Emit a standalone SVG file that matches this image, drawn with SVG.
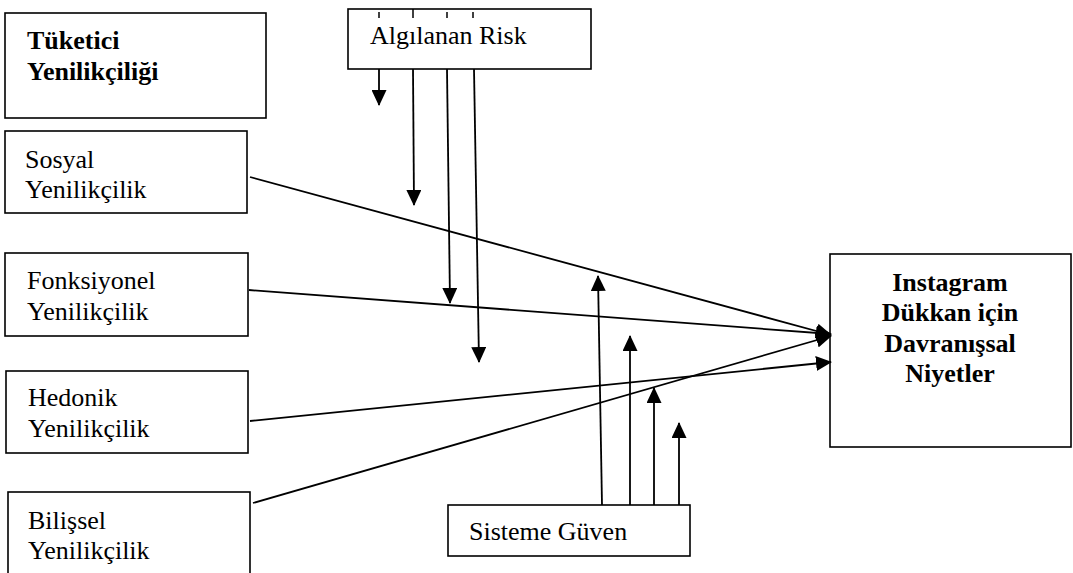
<svg xmlns="http://www.w3.org/2000/svg" width="1073" height="573" viewBox="0 0 1073 573">
<defs>
<marker id="ah" markerUnits="userSpaceOnUse" markerWidth="16" markerHeight="15" viewBox="0 0 16 15" refX="15" refY="7.5" orient="auto">
<path d="M0,0 L16,7.5 L0,15 z" fill="#000"/>
</marker>
<style>
.box{fill:#fff;stroke:#000;stroke-width:1.6}
.t{font-family:"Liberation Serif","Times New Roman",serif;font-size:26px;fill:#000}
.b{font-family:"Liberation Serif","Times New Roman",serif;font-size:26px;font-weight:bold;fill:#000}
.ln{stroke:#000;stroke-width:1.8;fill:none}
.ar{stroke:#000;stroke-width:1.8;fill:none;marker-end:url(#ah)}
.tk{stroke:#000;stroke-width:1.5}
</style>
</defs>
<rect width="1073" height="573" fill="#fff"/>
<g id="tuketici">
<rect class="box" x="5" y="13" width="261" height="105"/>
<text class="b" x="27" y="49">Tüketici</text>
<text class="b" x="27" y="80">Yenilikçiliği</text>
</g>
<g id="sosyal">
<rect class="box" x="5" y="131" width="242" height="82"/>
<text class="t" x="25" y="168">Sosyal</text>
<text class="t" x="25" y="198">Yenilikçilik</text>
</g>
<g id="fonksiyonel">
<rect class="box" x="5" y="253" width="243" height="83"/>
<text class="t" x="27" y="289">Fonksiyonel</text>
<text class="t" x="27" y="320">Yenilikçilik</text>
</g>
<g id="hedonik">
<rect class="box" x="6" y="371" width="242" height="82"/>
<text class="t" x="28" y="406">Hedonik</text>
<text class="t" x="28" y="437">Yenilikçilik</text>
</g>
<g id="bilissel">
<rect class="box" x="8" y="492" width="242" height="110"/>
<text class="t" x="28" y="529">Bilişsel</text>
<text class="t" x="28" y="559">Yenilikçilik</text>
</g>
<g id="risk">
<rect class="box" x="348" y="9" width="243" height="60"/>
<line class="tk" x1="379" y1="12" x2="379" y2="18"/>
<line class="tk" x1="413" y1="9" x2="413" y2="18"/>
<line class="tk" x1="447" y1="12" x2="447" y2="18"/>
<line class="tk" x1="473" y1="12" x2="473" y2="18"/>
<text class="t" x="370" y="44">Algılanan Risk</text>
</g>
<g id="guven">
<rect class="box" x="448" y="505" width="242" height="51"/>
<text class="t" x="469" y="540">Sisteme Güven</text>
</g>
<g id="instagram">
<rect class="box" x="830" y="254" width="241" height="193"/>
<text class="b" x="950" y="291" text-anchor="middle">Instagram</text>
<text class="b" x="950" y="321" text-anchor="middle">Dükkan için</text>
<text class="b" x="950" y="352" text-anchor="middle">Davranışsal</text>
<text class="b" x="950" y="382" text-anchor="middle">Niyetler</text>
</g>
<g id="connectors">
<line class="ar" x1="250" y1="177" x2="831" y2="335"/>
<line class="ar" x1="249" y1="290" x2="831" y2="334"/>
<line class="ar" x1="250" y1="421" x2="831" y2="362"/>
<line class="ar" x1="253" y1="503" x2="831" y2="336"/>
<line class="ar" x1="379" y1="69" x2="379" y2="105"/>
<line class="ar" x1="413" y1="69" x2="414" y2="205"/>
<line class="ar" x1="447" y1="69" x2="450" y2="303"/>
<line class="ar" x1="474" y1="69" x2="479" y2="362"/>
<line class="ar" x1="602" y1="505" x2="598" y2="276"/>
<line class="ar" x1="630" y1="505" x2="630" y2="336"/>
<line class="ar" x1="654" y1="505" x2="654" y2="388"/>
<line class="ar" x1="679" y1="505" x2="679" y2="423"/>
</g>
</svg>
